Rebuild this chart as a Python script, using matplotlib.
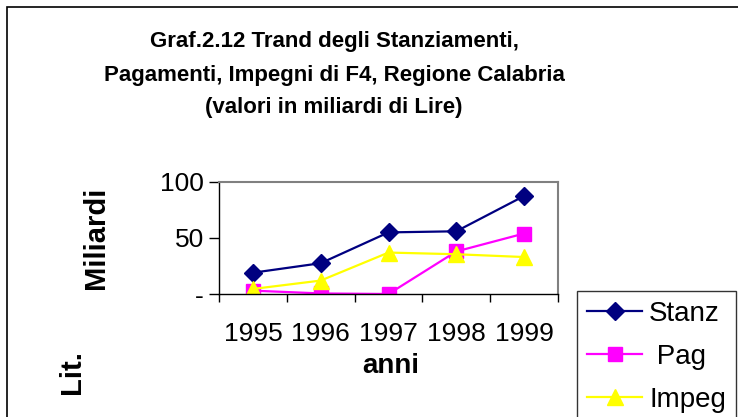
import matplotlib
matplotlib.use('Agg')
import matplotlib.pyplot as plt
from matplotlib.patches import Rectangle

plt.rcParams['font.family'] = ['Liberation Sans', 'DejaVu Sans']

anni = ['1995', '1996', '1997', '1998', '1999']
stanz = [19, 27.5, 55, 56, 87.5]
pag = [3, 0.5, 0, 38, 54]
impeg = [4.5, 12, 37, 35.5, 33]

fig = plt.figure(figsize=(7.38, 4.17), dpi=100)
# pixel box of the plot area in the reference: x 219..558, y 182..294
ax = fig.add_axes([219 / 738, 1 - 294 / 417, (558 - 219) / 738, (294 - 182) / 417])

x = list(range(len(anni)))
ax.plot(x, stanz, color='#000080', lw=1.6, marker='D', ms=9, label='Stanz')
ax.plot(x, pag, color='#FF00FF', lw=1.6, marker='s', ms=10, label=' Pag')
ax.plot(x, impeg, color='#FFFF00', lw=1.6, marker='^', ms=11, label='Impeg')

ax.set_xlim(-0.5, len(anni) - 0.5)
ax.set_ylim(0, 100)
ax.set_yticks([0, 50, 100])
ax.set_yticklabels(['-', '50', '100'], fontsize=19)
ax.set_xticks([i - 0.5 for i in range(len(anni) + 1)], minor=False)
ax.set_xticklabels([''] * (len(anni) + 1))
ax.set_xticks(x, minor=True)
ax.set_xticklabels(anni, minor=True, fontsize=19)
ax.tick_params(axis='x', which='minor', length=0, pad=20)
ax.tick_params(axis='x', which='major', length=6, width=1, direction='out')
ax.tick_params(axis='y', length=7, width=1, direction='out', pad=4)

for side in ['top', 'right']:
    ax.spines[side].set_color('#808080')
    ax.spines[side].set_linewidth(1.5)
for side in ['left', 'bottom']:
    ax.spines[side].set_color('black')
    ax.spines[side].set_linewidth(1)

# titolo su tre righe
fig.text(334 / 738, 1 - 42 / 417, 'Graf.2.12 Trand degli Stanziamenti,', ha='center', va='center',
         fontsize=16, fontweight='bold')
fig.text(334 / 738, 1 - 75 / 417, 'Pagamenti, Impegni di F4, Regione Calabria', ha='center', va='center',
         fontsize=16, fontweight='bold')
fig.text(334 / 738, 1 - 108 / 417, '(valori in miliardi di Lire)', ha='center', va='center',
         fontsize=16, fontweight='bold')

fig.text(391 / 738, 1 - 366 / 417, 'anni', ha='center', va='center', fontsize=20, fontweight='bold')
fig.text(96 / 738, 1 - 238 / 417, 'Miliardi', ha='center', va='center', rotation=90,
         fontsize=21, fontweight='bold')
fig.text(72 / 738, 1 - 372 / 417, 'Lit.', ha='center', va='center', rotation=90,
         fontsize=21, fontweight='bold')

# outer chart border
fig.patches.append(Rectangle((7 / 738, -0.1), 1.2, 1 - 7 / 417 + 0.1, transform=fig.transFigure,
                             fill=False, edgecolor='black', lw=1.2))

leg = fig.legend(loc='upper left', bbox_to_anchor=(577 / 738, 1 - 291 / 417), fontsize=20,
                 frameon=True, fancybox=False, edgecolor='black', handlelength=2.0,
                 handletextpad=0.25, labelspacing=0.62, borderpad=0.35, borderaxespad=0)
leg.get_frame().set_linewidth(1)

fig.savefig('out.png', dpi=100)
